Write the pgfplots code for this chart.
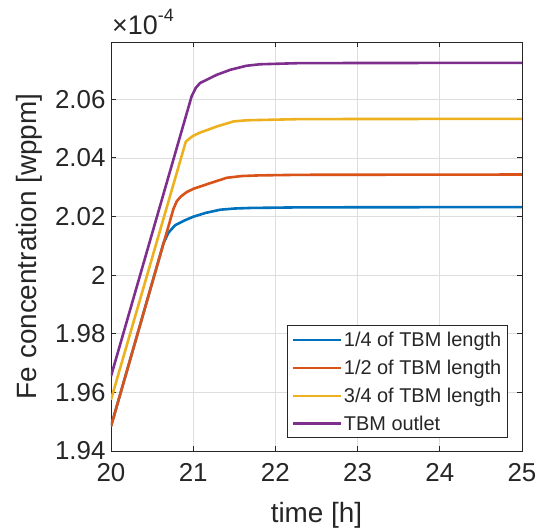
\documentclass[border=0pt]{standalone}
\usepackage{fontspec}
\setmainfont{Liberation Sans}
\usepackage{pgfplots}
\pgfplotsset{compat=1.18}
\definecolor{c1}{rgb}{0,0.447,0.741}
\definecolor{c2}{rgb}{0.85,0.325,0.098}
\definecolor{c3}{rgb}{0.929,0.694,0.125}
\definecolor{c4}{rgb}{0.494,0.184,0.556}
\definecolor{axc}{rgb}{0.15,0.15,0.15}
\begin{document}
\begin{tikzpicture}
\begin{axis}[name=ax, scale only axis, width=411bp, height=409bp,
  xmin=20, xmax=25, ymin=1.94, ymax=2.0795,
  xtick={20,21,22,23,24,25},
  ytick={1.94,1.96,1.98,2,2.02,2.04,2.06},
  grid=major, major grid style={black!13, line width=0.6bp},
  axis line style={axc, line width=0.8bp},
  tick align=inside, tick pos=both, major tick length=5bp,
  tick style={axc, line width=0.8bp},
  /pgf/number format/assume math mode=true,
  ticklabel style={font=\fontsize{26}{30}\selectfont, text=axc},
  yticklabel style={/pgf/number format/fixed, /pgf/number format/precision=2, xshift=-2bp},
  xticklabel style={yshift=-9bp},
  scaled y ticks=false,
  xlabel={time [h]},
  ylabel={Fe concentration [wppm]},
  every axis x label/.style={at={(rel axis cs:0.5,-0.1736)}, anchor=base, font=\fontsize{28}{32}\selectfont, text=axc},
  every axis y label/.style={at={(rel axis cs:-0.198,0.5)}, anchor=center, rotate=90, font=\fontsize{28}{32}\selectfont, text=axc},
  legend style={at={(rel axis cs:0.965,0.032)}, anchor=south east,
    font=\fontsize{20}{24}\selectfont, draw=axc, line width=0.8bp,
    cells={anchor=west}, text=axc, inner xsep=4bp, inner ysep=4bp,
    row sep=8bp},
  legend image code/.code={\draw[#1, line width=2.2bp] (0bp,0bp) -- (48bp,0bp);},
  every axis plot/.append style={line width=2.6bp, line join=round},
]
\addplot[c1] coordinates {(20,1.9484) (20.64,2.0110) (20.70,2.0145) (20.78,2.0170) (20.9,2.0187) (21.0,2.0199) (21.15,2.0212) (21.33,2.0223) (21.5,2.0227) (21.7,2.0229) (22.3,2.0231) (25,2.0232)};
\addlegendentry{1/4 of TBM length}
\addplot[c2] coordinates {(20,1.9484) (20.76,2.0226) (20.80,2.0252) (20.85,2.0268) (20.92,2.0283) (21.0,2.0294) (21.2,2.0313) (21.41,2.0332) (21.6,2.0338) (21.8,2.0340) (22.3,2.0342) (25,2.0343)};
\addlegendentry{1/2 of TBM length}
\addplot[c3] coordinates {(20,1.9575) (20.91,2.0455) (20.96,2.0467) (21.0,2.0475) (21.083,2.0486) (21.3,2.0508) (21.49,2.0524) (21.65,2.0528) (22.3,2.0532) (25,2.0533)};
\addlegendentry{3/4 of TBM length}
\addplot[c4] coordinates {(20,1.9655) (20.98,2.0609) (21.03,2.0638) (21.083,2.0655) (21.286,2.0683) (21.45,2.0700) (21.65,2.0714) (21.81,2.0719) (22.3,2.0723) (25,2.0724)};
\addlegendentry{TBM outlet}
\end{axis}
\node[anchor=base west, inner sep=0pt, text=axc, font=\fontsize{27}{30}\selectfont] at ([xshift=1bp,yshift=7bp]ax.north west) {×10\raisebox{0.5em}{\fontsize{18}{20}\selectfont -4}};
\pgfresetboundingbox
\path[use as bounding box] ([xshift=-111bp,yshift=-79bp]ax.south west) rectangle ([xshift=22bp,yshift=42bp]ax.north east);
\end{tikzpicture}
\end{document}
